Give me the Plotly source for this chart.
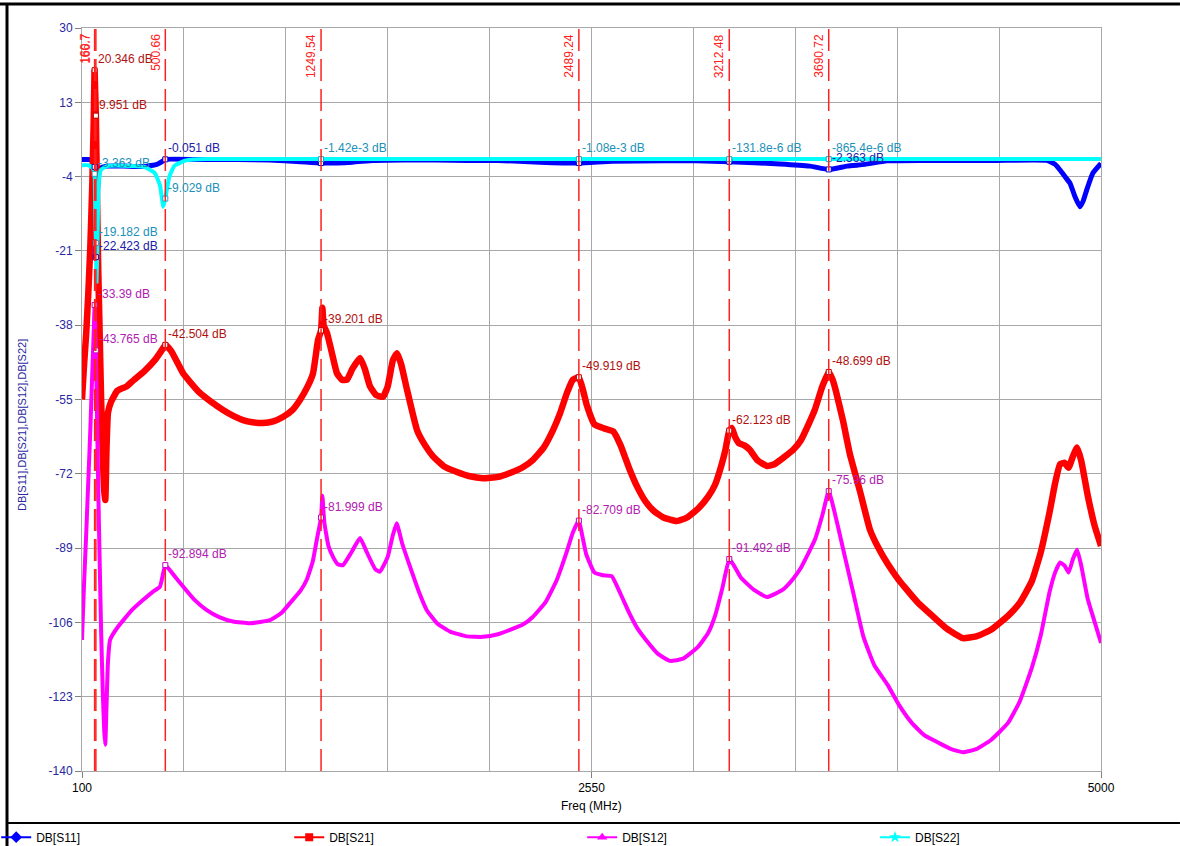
import plotly.graph_objects as go

# ---------------- data ----------------
s21_f = [100, 110, 120, 130, 140, 150, 156, 160.7, 163, 166.7, 172, 178, 185, 192, 200, 207, 212, 218, 225, 240,
         270, 315, 350, 400, 450, 480, 500.66, 530, 586, 620, 667, 720, 778, 830, 874, 920, 970, 1020, 1066, 1110,
         1148, 1185, 1211, 1235, 1249.54, 1256, 1262, 1278, 1300, 1326, 1350, 1374, 1400, 1437, 1460, 1485, 1515,
         1547, 1570, 1595, 1615, 1635, 1663, 1711, 1750, 1788, 1840, 1903, 1960, 2028, 2100, 2158, 2220, 2269,
         2320, 2365, 2400, 2432, 2460, 2489.24, 2510, 2528, 2564, 2610, 2655, 2690, 2730, 2770, 2812, 2850, 2896,
         2961, 3010, 3062, 3110, 3144, 3175, 3194, 3212.48, 3225, 3240, 3259, 3285, 3311, 3350, 3394, 3430, 3476,
         3520, 3557, 3600, 3625, 3660, 3690.72, 3710, 3726, 3760, 3792, 3841, 3889, 3930, 3974, 4020, 4057, 4120,
         4189, 4260, 4336, 4400, 4471, 4553, 4610, 4668, 4710, 4753, 4780, 4803, 4825, 4844, 4865, 4885, 4905,
         4936, 4970, 5000]
s21_v = [-55, -47, -40, -31, -20, -5, 8, 20.35, 16, 9.95, -8, -25, -40, -55, -68, -76, -78, -66, -58, -55.5,
         -53, -52, -50.5, -48.5, -46, -44, -42.5, -44, -49, -51, -53.5, -55.5, -57.4, -58.8, -59.7, -60.2, -60.4, -60, -59, -57.5,
         -55.1, -52, -49, -41.4, -39.2, -34, -38, -39.8, -44, -49, -50.5, -50.5, -48, -45.5, -48, -52, -54,
         -54.4, -52, -46, -44.4, -47, -52.8, -62, -65.5, -68, -70.3, -71.6, -72.5, -73, -72.7, -71.8, -70.5, -68.8,
         -66, -62, -58, -53.5, -50.5, -49.9, -53, -56.4, -60.7, -61.6, -62.3, -65.5, -70.6, -75, -78.5, -80.5, -82,
         -82.8, -82, -80, -77.3, -74.5, -70, -66.5, -62.1, -61.5, -63.5, -65, -65.5, -66.5, -69, -70.2, -69.8, -68.2,
         -66.5, -64.3, -60, -57.2, -52, -48.7, -50.5, -53.2, -60, -67.4, -76, -84.8, -89, -92.6, -95.8, -98, -101.5,
         -104.5, -107.5, -109.6, -109.2, -107.7, -104.5, -101.5, -96.5, -90, -80.7, -74, -69.8, -69.5, -70.6, -68, -66, -69,
         -76.9, -84, -88.5]

s12_f = [100, 110, 120, 130, 140, 150, 156, 160.7, 163, 166.7, 172, 178, 185, 192, 200, 207, 212, 218, 225, 235,
         273, 340, 393, 440, 475, 500.66, 530, 586, 640, 700, 760, 826, 908, 1004, 1060, 1100, 1150, 1180, 1210,
         1229, 1249.54, 1256, 1265, 1285, 1307, 1330, 1355, 1395, 1437, 1470, 1510, 1533, 1570, 1595, 1613, 1640,
         1677, 1720, 1758, 1810, 1870, 1950, 2028, 2100, 2158, 2220, 2269, 2330, 2383, 2430, 2460, 2489.24, 2505,
         2524, 2564, 2605, 2647, 2690, 2730, 2770, 2812, 2870, 2927, 2990, 3062, 3110, 3144, 3180, 3212.48, 3235,
         3269, 3330, 3394, 3470, 3520, 3557, 3625, 3660, 3690.72, 3720, 3758, 3810, 3857, 3910, 3974, 4030, 4090,
         4150, 4221, 4280, 4336, 4400, 4471, 4553, 4610, 4668, 4710, 4753, 4780, 4803, 4825, 4844, 4865, 4885,
         4905, 4936, 4970, 5000]
s12_v = [-110, -97, -86, -74, -62, -48, -40, -33.39, -38, -43.77, -58, -75, -92, -108, -122, -131, -134, -125, -115, -110,
         -107, -103.2, -100.9, -99, -97.8, -92.9, -94.5, -97.8, -100.8, -103.2, -104.8, -105.8, -106.2, -105.5, -103.8, -101.6, -98.8, -96.3, -92,
         -87.1, -82, -77, -83, -88.5, -91, -92.7, -92.9, -90, -86.7, -90, -93.8, -94.4, -91, -86, -83.3, -88,
         -93.2, -99, -103.2, -106.3, -108.1, -109.2, -109.3, -108.7, -107.7, -106.5, -104.7, -101.3, -96.3, -90, -85.5, -82.7, -86,
         -90.3, -94.6, -95.2, -95.4, -99.5, -103.7, -107.3, -110, -113.2, -114.8, -114.3, -111.6, -108.5, -104.5, -98, -91.5, -93,
         -95.8, -98.5, -100.2, -98.5, -96, -93.5, -87, -81.5, -75.96, -81, -88.8, -99.5, -109.2, -115.8, -120.3, -125, -129,
         -131.8, -133.6, -135, -135.7, -135, -132.9, -129, -124, -116.3, -109, -99, -94.5, -92.3, -93, -94.6, -91.5, -89.4,
         -93, -100.6, -106, -110.7]

s11_f = [100, 130, 150, 156, 160.7, 163, 166.7, 170, 175, 182, 190, 220, 300, 400, 460, 490, 500.66, 700, 850, 1000,
         1150, 1249.54, 1400, 1500, 1650, 1800, 1950, 2100, 2300, 2489.24, 2650, 2900, 3050, 3212.48, 3456, 3600,
         3690.72, 3780, 3865, 3971, 4150, 4300, 4500, 4739, 4780, 4803, 4830, 4851, 4875, 4899, 4915, 4931, 4961, 5000]
s11_v = [-0.1, -0.1, -0.2, -0.8, -1.77, -10, -22.42, -16, -7, -3, -2, -1.6, -1.6, -1.7, -1.2, -0.4, -0.05, -0.1, -0.1, -0.2,
         -0.6, -0.9, -0.7, -0.3, -0.2, -0.2, -0.3, -0.3, -0.7, -0.9, -0.5, -0.4, -0.4, -0.6, -1.1, -1.6,
         -2.36, -1.6, -1.2, -0.4, -0.3, -0.3, -0.3, -0.3, -1.2, -2.5, -4.2, -5.5, -8.6, -10.9, -9.5, -7.1, -3.2, -1.0]

s22_f = [100, 130, 150, 156, 160.7, 163, 166.7, 170, 174, 180, 190, 220, 300, 400, 450, 475, 491, 500.66, 520, 545,
         600, 700, 900, 1100, 1249.54, 1500, 1800, 2100, 2489.24, 2800, 3212.48, 3690.72, 4000, 4300, 4600, 4800,
         5000]
s22_v = [-1.4, -1.4, -2.0, -2.6, -3.363, -10, -19.18, -28, -20, -6, -2.5, -1.6, -1.5, -1.8, -3.2, -6, -10.9, -9.03, -4, -1.5,
         -0.3, 0, 0, 0, 0, 0, 0, 0, 0, 0, 0, 0, 0, 0, 0, 0,
         0]

marker_f = [160.7, 166.7, 500.66, 1249.54, 2489.24, 3212.48, 3690.72]
marker_names = ["160.7", "166.7", "500.66", "1249.54", "2489.24", "3212.48", "3690.72"]
m_s21 = [20.346, 9.951, -42.504, -39.201, -49.919, -62.123, -48.699]
m_s12 = [-33.39, -43.765, -92.894, -81.999, -82.709, -91.492, -75.96]
m_s22 = [-3.363, -19.182, -9.029, -1.42e-3, -1.08e-3, -131.8e-6, -865.4e-6]
m_s11 = [-1.77, -22.423, -0.051, -0.9, -0.9, -0.6, -2.363]
lab_s21 = ["20.346 dB", "9.951 dB", "-42.504 dB", "-39.201 dB", "-49.919 dB", "-62.123 dB", "-48.699 dB"]
lab_s12 = ["-33.39 dB", "-43.765 dB", "-92.894 dB", "-81.999 dB", "-82.709 dB", "-91.492 dB", "-75.96 dB"]
lab_s22 = ["-3.363 dB", "-19.182 dB", "-9.029 dB", "-1.42e-3 dB", "-1.08e-3 dB", "-131.8e-6 dB", "-865.4e-6 dB"]
lab_s11 = [None, "-22.423 dB", "-0.051 dB", None, None, None, "-2.363 dB"]

y_ticks = [30, 13, -4, -21, -38, -55, -72, -89, -106, -123, -140]
x_ticks = [100, 2550, 5000]

# ---------------- figure ----------------
FONT = "Liberation Sans, Arial, sans-serif"
fig = go.Figure()

series = [
    ("DB[S11]", s11_f, s11_v, "#0000FF", 5, "diamond", 9, "legend"),
    ("DB[S21]", s21_f, s21_v, "#FF0000", 6.5, "square", 8, "legend"),
    ("DB[S12]", s12_f, s12_v, "#FF00FF", 4, "triangle-up", 9, "legend"),
    ("DB[S22]", s22_f, s22_v, "#00FFFF", 4, "star", 9, "legend2"),
]
for name, fx, fy, col, lw, sym, ms, lg in series:
    fig.add_trace(go.Scatter(x=fx, y=fy, name=name, mode="lines", showlegend=False,
                             line=dict(color=col, width=lw, shape="spline", smoothing=0.4)))
# legend entries (line + marker symbol)
for name, fx, fy, col, lw, sym, ms, lg in series:
    fig.add_trace(go.Scatter(x=[None], y=[None], name=name, mode="lines+markers", legend=lg,
                             line=dict(color=col, width=2), marker=dict(symbol=sym, size=ms, color=col)))

# marker points (white squares)
for vals, col in [(m_s11, "#0000C0"), (m_s21, "#C00000"), (m_s12, "#C000C0"), (m_s22, "#20A0C0")]:
    fig.add_trace(go.Scatter(x=marker_f, y=vals, mode="markers", showlegend=False, hoverinfo="skip",
                             marker=dict(symbol="square", size=5, color="white",
                                         line=dict(color=col, width=1))))

# marker vertical dashed lines and labels
for mf, mn in zip(marker_f, marker_names):
    fig.add_shape(type="line", xref="x", yref="paper", x0=mf, x1=mf, y0=0, y1=1,
                  line=dict(color="#FF2020", width=1.5, dash="22px,8px"), layer="above")
    fig.add_annotation(x=mf, xref="x", y=1, yref="paper", text=mn, textangle=-90,
                       xanchor="right", yanchor="top", xshift=-1, yshift=-4, showarrow=False,
                       font=dict(family=FONT, size=12, color="#FF2020"))

# marker readout labels
for vals, labs, col in [(m_s21, lab_s21, "#B01010"), (m_s12, lab_s12, "#B020B0"),
                        (m_s22, lab_s22, "#2090B8"), (m_s11, lab_s11, "#2020A8")]:
    for mf, v, t in zip(marker_f, vals, labs):
        if t is None:
            continue
        fig.add_annotation(x=mf, y=v, xref="x", yref="y", text=t, showarrow=False,
                           xanchor="left", yanchor="middle", xshift=1, yshift=11,
                           font=dict(family=FONT, size=12, color=col))

# axis titles
fig.add_annotation(x=-0.0589, y=0.4657, xref="paper", yref="paper", text="DB[S11],DB[S21],DB[S12],DB[S22]",
                   textangle=-90, showarrow=False, xanchor="center", yanchor="middle",
                   font=dict(family=FONT, size=11, color="#2828A0"))
fig.add_annotation(x=0.5, y=-0.0471, xref="paper", yref="paper", text="Freq (MHz)", showarrow=False,
                   xanchor="center", yanchor="middle", font=dict(family=FONT, size=12, color="black"))

# outer frame lines
fig.add_shape(type="line", xref="paper", yref="paper", x0=-0.0805, x1=1.0775, y0=1.0323, y1=1.0323,
              line=dict(color="black", width=3))
fig.add_shape(type="line", xref="paper", yref="paper", x0=-0.0736, x1=-0.0736, y0=1.0323, y1=-0.101,
              line=dict(color="black", width=3))
fig.add_shape(type="line", xref="paper", yref="paper", x0=-0.0736, x1=1.0775, y0=-0.070, y1=-0.070,
              line=dict(color="black", width=2))

grid = "#A8A8A8"
fig.update_xaxes(range=[100, 5000], tickvals=x_ticks, ticktext=[str(v) for v in x_ticks],
                 showgrid=True, gridcolor=grid, gridwidth=1,
                 minor=dict(tick0=100, dtick=490, showgrid=True, gridcolor=grid, gridwidth=1, ticks=""),
                 showline=True, linecolor=grid, linewidth=1, mirror=True,
                 ticks="outside", ticklen=6, tickcolor="#808080", zeroline=False,
                 tickfont=dict(family=FONT, size=12, color="black"))
fig.update_yaxes(range=[-140, 30], tickvals=y_ticks, ticktext=[str(v) for v in y_ticks],
                 showgrid=True, gridcolor=grid, gridwidth=1,
                 showline=True, linecolor=grid, linewidth=1, mirror=True,
                 ticks="outside", ticklen=6, tickcolor="#808080", zeroline=False,
                 tickfont=dict(family=FONT, size=12, color="#2828A0"))

leg_common = dict(orientation="h", xanchor="left", y=-0.089, yanchor="middle",
                  entrywidth=248, entrywidthmode="pixels", itemwidth=30,
                  bgcolor="rgba(0,0,0,0)", font=dict(family=FONT, size=12, color="black"))
fig.update_layout(width=1180, height=846, margin=dict(l=82, r=79, t=28, b=75, autoexpand=False),
                  plot_bgcolor="white", paper_bgcolor="white",
                  font=dict(family=FONT, size=12, color="black"),
                  showlegend=True,
                  legend=dict(x=-0.0842, **leg_common),
                  legend2=dict(x=0.7782, **leg_common))

fig.write_html("out.html")
